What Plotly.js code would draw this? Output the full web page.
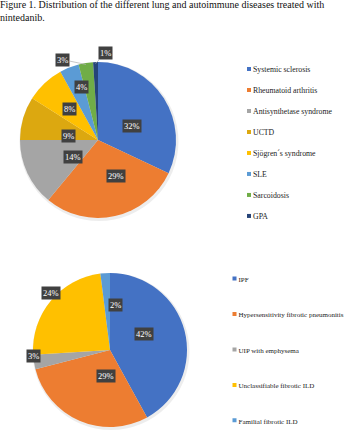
<!DOCTYPE html>
<html>
<head>
<meta charset="utf-8">
<script src="https://cdn.plot.ly/plotly-3.0.1.min.js"></script>
<style>html,body{margin:0;padding:0;background:#fff;}#chart{width:353px;height:440px;}</style>
</head>
<body>
<div id="chart"></div>
<script>
// ---- data ----
const titleText = 'Figure 1. Distribution of the different lung and autoimmune diseases treated with<br>nintedanib.';

const autoimmuneLabels = ['Systemic sclerosis', 'Rheumatoid arthritis', 'Antisynthetase syndrome', 'UCTD', 'Sjögren´s syndrome', 'SLE', 'Sarcoidosis', 'GPA'];
const autoimmuneValues = [32, 29, 14, 9, 8, 4, 3, 1];

const lungLabels = ['IPF', 'Hypersensitivity fibrotic pneumonitis', 'UIP with emphysema', 'Unclassifiable fibrotic ILD', 'Familial fibrotic ILD'];
const lungValues = [42, 29, 3, 24, 2];

// ---- styles / layout ----
const W = 353, H = 440;
const autoimmuneColors = ['#4472C4', '#ED7D31', '#A5A5A5', '#DCA810', '#FFC000', '#5B9BD5', '#70AD47', '#264478'];
const lungColors = ['#4472C4', '#ED7D31', '#A5A5A5', '#FFC000', '#5B9BD5'];

const topPie = {cx: 98, cy: 140, R: 78};
const botPie = {cx: 110, cy: 350, R: 77};

// label placement: radius factor along slice mid-angle, or leader-line offset in px
const topLabelPlace = [{r: 0.51}, {r: 0.47}, {r: 0.5}, {r: 0.5}, {r: 0.67}, {r: 0.83}, {r: 0.98, ax: -24, ay: -5}, {r: 0.98, ax: 10, ay: -11}];
const botLabelPlace = [{r: 0.46}, {r: 0.47}, {r: 1.1}, {r: 1.17}, {r: 0.5}];

function domainOf(p) {
  return {
    x: [(p.cx - p.R) / W, (p.cx + p.R) / W],
    y: [1 - (p.cy + p.R) / H, 1 - (p.cy - p.R) / H]
  };
}

function shadowOf(p) {
  return {
    type: 'circle', xref: 'paper', yref: 'paper', layer: 'below',
    x0: (p.cx + 1 - p.R - 1.5) / W, x1: (p.cx + 1 + p.R + 1.5) / W,
    y0: 1 - (p.cy + 1.5 + p.R + 1.5) / H, y1: 1 - (p.cy + 1.5 - p.R - 1.5) / H,
    fillcolor: 'rgba(0,0,0,0.07)', line: {width: 0}
  };
}

function labelAnnotations(values, p, place) {
  const total = values.reduce((a, b) => a + b, 0);
  let cum = 0;
  return values.map((v, i) => {
    const a = (cum + v / 2) / total * 2 * Math.PI;
    cum += v;
    const pl = place[i];
    const px = p.cx + pl.r * p.R * Math.sin(a);
    const py = p.cy - pl.r * p.R * Math.cos(a);
    const ann = {
      xref: 'paper', yref: 'paper',
      x: px / W, y: 1 - py / H,
      text: Math.round(v / total * 100) + '%',
      font: {family: 'Liberation Serif', size: 8.5, color: '#ffffff'},
      bgcolor: '#404040', borderpad: 1,
      showarrow: false
    };
    if (pl.ax !== undefined) {
      ann.showarrow = true;
      ann.ax = pl.ax; ann.ay = pl.ay;
      ann.arrowhead = 0; ann.arrowwidth = 0.7; ann.arrowcolor = '#b0b0b0';
      ann.standoff = 0;
    }
    return ann;
  });
}

function legendLabels(labels, size, extraLines) {
  return labels.map(l => '<span style="font-size:' + size + 'px">' + l + '</span>' + '<br> '.repeat(extraLines));
}

const traces = [
  {
    type: 'pie',
    labels: legendLabels(autoimmuneLabels, 7.8, 1),
    values: autoimmuneValues,
    marker: {colors: autoimmuneColors, line: {width: 0}},
    sort: false, direction: 'clockwise', rotation: 0,
    textinfo: 'none', hoverinfo: 'none',
    domain: domainOf(topPie),
    legend: 'legend'
  },
  {
    type: 'pie',
    labels: legendLabels(lungLabels, 7, 2),
    values: lungValues,
    marker: {colors: lungColors, line: {width: 0}},
    sort: false, direction: 'clockwise', rotation: 0,
    textinfo: 'none', hoverinfo: 'none',
    domain: domainOf(botPie),
    legend: 'legend2'
  }
];

const layout = {
  width: W, height: H,
  margin: {l: 0, r: 0, t: 0, b: 0, autoexpand: false},
  paper_bgcolor: '#ffffff',
  title: {
    text: titleText,
    x: 0, xref: 'container', xanchor: 'left',
    y: 1 - 8 / H, yref: 'container', yanchor: 'top',
    font: {family: 'Liberation Serif', size: 10, color: '#111111'}
  },
  legend: {
    x: 213 / W, xanchor: 'left', y: 1 - 58 / H, yanchor: 'top',
    font: {family: 'Liberation Serif', size: 6.92, color: '#222222'},
    valign: 'top', bgcolor: 'rgba(0,0,0,0)'
  },
  legend2: {
    x: 198.5 / W, xanchor: 'left', y: 1 - 266.5 / H, yanchor: 'top',
    font: {family: 'Liberation Serif', size: 8.33, color: '#222222'},
    valign: 'top', bgcolor: 'rgba(0,0,0,0)'
  },
  shapes: [shadowOf(topPie), shadowOf(botPie)],
  annotations: labelAnnotations(autoimmuneValues, topPie, topLabelPlace)
    .concat(labelAnnotations(lungValues, botPie, botLabelPlace)),
  showlegend: true
};

Plotly.newPlot('chart', traces, layout, {staticPlot: true}).then(function () {
  document.querySelectorAll('.legendpie').forEach(function (p) {
    p.setAttribute('d', 'M-2,-2H2V2H-2Z');
    p.setAttribute('transform', 'translate(36,0)');
    p.style.strokeWidth = '0';
  });
});
</script>
</body>
</html>
